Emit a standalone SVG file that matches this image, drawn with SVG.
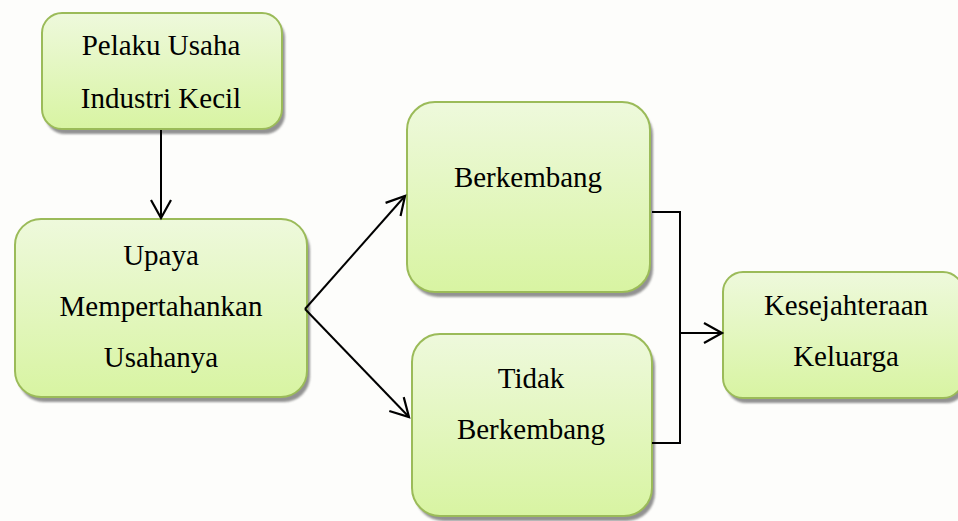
<svg xmlns="http://www.w3.org/2000/svg" width="958" height="521" viewBox="0 0 958 521">
<defs>
<linearGradient id="g" x1="0" y1="0" x2="0" y2="1">
<stop offset="0" stop-color="#eef9dc"/>
<stop offset="1" stop-color="#d8f4a2"/>
</linearGradient>
<filter id="sh" x="-10%" y="-10%" width="130%" height="130%">
<feGaussianBlur stdDeviation="1"/>
</filter>
<marker id="ah" markerWidth="24" markerHeight="24" refX="20" refY="11" orient="auto" markerUnits="userSpaceOnUse">
<path d="M2,1 L20,11 L2,21" fill="none" stroke="#000" stroke-width="2.2"/>
</marker>
</defs>
<style>
.box{fill:url(#g);stroke:#9bbb59;stroke-width:2}
.shadow{fill:#808080;opacity:0.85;filter:url(#sh)}
text{font-family:"Liberation Serif","Times New Roman",serif;font-size:29px;fill:#000;text-anchor:middle}
.c{fill:none;stroke:#000;stroke-width:2}
</style>
<rect width="958" height="521" fill="#fdfdfb"/>
<g id="n1">
<rect class="shadow" x="45" y="18" width="240" height="116" rx="20"/>
<rect class="box" x="42" y="13" width="240" height="116" rx="20"/>
<text x="161" y="55">Pelaku Usaha</text>
<text x="161" y="108">Industri Kecil</text>
</g>
<g id="n2">
<rect class="shadow" x="18" y="224" width="292" height="178" rx="26"/>
<rect class="box" x="15" y="219" width="292" height="178" rx="26"/>
<text x="161" y="265">Upaya</text>
<text x="161" y="316">Mempertahankan</text>
<text x="161" y="367">Usahanya</text>
</g>
<g id="n3">
<rect class="shadow" x="410" y="107" width="243" height="190" rx="28"/>
<rect class="box" x="407" y="102" width="243" height="190" rx="28"/>
<text x="528" y="187">Berkembang</text>
</g>
<g id="n4">
<rect class="shadow" x="415" y="339" width="240" height="182" rx="28"/>
<rect class="box" x="412" y="334" width="240" height="182" rx="28"/>
<text x="531" y="388">Tidak</text>
<text x="531" y="439">Berkembang</text>
</g>
<g id="n5">
<rect class="shadow" x="726" y="277" width="240" height="126" rx="20"/>
<rect class="box" x="723" y="272" width="240" height="126" rx="20"/>
<text x="846" y="315">Kesejahteraan</text>
<text x="846" y="366">Keluarga</text>
</g>
<g id="connectors">
<line class="c" x1="161" y1="130" x2="161" y2="218" marker-end="url(#ah)"/>
<line class="c" x1="305" y1="309" x2="405" y2="196" marker-end="url(#ah)"/>
<line class="c" x1="305" y1="309" x2="409" y2="417" marker-end="url(#ah)"/>
<polyline class="c" points="652,212 680,212 680,443 652,443"/>
<line class="c" x1="680" y1="333" x2="722" y2="333" marker-end="url(#ah)"/>
</g>
</svg>
